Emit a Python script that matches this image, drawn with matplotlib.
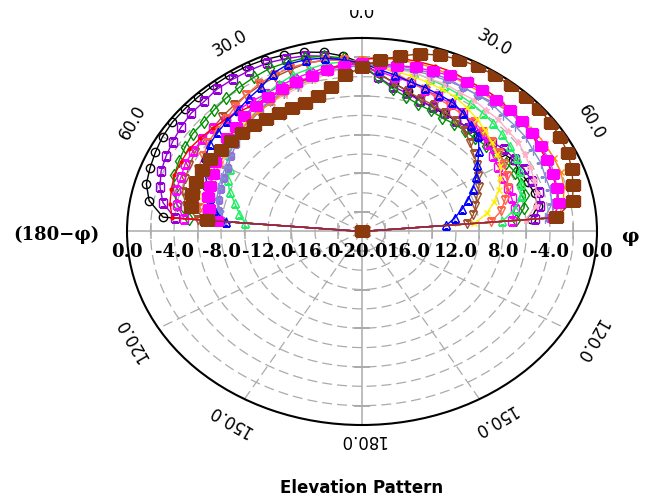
import numpy as np
import matplotlib.pyplot as plt
from matplotlib.transforms import Bbox, TransformedBbox

# elevation angle in degrees (left half is 180-phi, right half is phi)
theta_deg = np.arange(-90, 91, 5)

# pattern values in dB, one list per curve (-90 ... 90 in 5 deg steps)
black_circ = [-20, -3.0, -1.6, -1.0, -0.8, -0.6, -0.4, -0.3, -0.3, -0.3, -0.3, -0.3, -0.3, -0.4, -0.6, -0.8, -1.2, -1.8,
              -2.6, -3.6, -4.4, -5.0, -5.6, -5.8, -6.0, -6.0, -6.0, -6.0, -5.8, -5.6, -5.2, -5.2, -5.0, -4.8, -4.8, -5.6, -20]
violet_sq = [-20, -4.0, -2.8, -2.2, -1.8, -1.6, -1.4, -1.2, -1.0, -1.0, -0.8, -0.8, -0.8, -0.8, -1.0, -1.2, -1.6, -2.2,
             -3.0, -4.0, -4.8, -5.2, -5.6, -5.8, -5.8, -6.0, -6.0, -5.8, -5.6, -5.2, -5.0, -4.8, -4.6, -4.4, -4.6, -5.2, -20]
green_dia = [-20, -5.2, -4.0, -3.4, -3.0, -2.8, -2.6, -2.4, -2.4, -2.2, -2.0, -1.8, -1.6, -1.4, -1.4, -1.4, -1.6, -2.0,
             -2.8, -4.0, -5.0, -5.6, -6.0, -6.2, -6.4, -6.4, -6.4, -6.4, -6.2, -6.0, -5.8, -5.6, -5.6, -5.6, -6.0, -6.8, -20]
sienna_tri = [-20, -6.0, -4.8, -4.2, -4.0, -3.8, -3.6, -3.4, -3.4, -3.2, -3.0, -2.8, -2.6, -2.4, -2.2, -2.0, -2.0, -2.2,
              -2.8, -3.6, -4.4, -5.0, -5.4, -5.6, -5.8, -6.0, -6.4, -7.0, -7.6, -8.0, -8.6, -9.0, -9.6, -10.0, -10.4, -11.0, -20]
blue_tri = [-20, -8.4, -7.2, -6.6, -6.0, -5.2, -4.6, -4.2, -4.0, -3.8, -3.6, -3.2, -2.8, -2.0, -1.6, -1.6, -1.8, -2.2,
            -2.6, -3.2, -3.6, -4.0, -4.2, -4.4, -4.6, -5.0, -5.6, -6.0, -7.0, -8.0, -8.8, -9.6, -10.4, -11.2, -12.0, -12.8, -20]
magenta_sq = [-20, -4.8, -4.0, -3.6, -3.6, -3.4, -3.4, -3.4, -3.4, -3.6, -3.6, -3.6, -3.6, -3.4, -3.2, -3.0, -2.8, -2.8,
              -3.0, -3.4, -3.8, -4.0, -4.4, -4.6, -4.8, -5.0, -5.4, -5.6, -6.0, -6.4, -6.6, -6.8, -6.8, -6.8, -6.8, -7.2, -20]
tomato_tri = [-20, -6.8, -6.0, -5.4, -5.0, -4.6, -4.4, -4.0, -3.8, -3.6, -3.2, -2.8, -2.4, -2.2, -2.0, -2.0, -2.0, -2.2,
              -2.4, -2.8, -3.4, -4.0, -4.4, -4.8, -5.0, -5.2, -5.2, -5.4, -5.6, -5.8, -6.0, -6.4, -6.8, -7.4, -8.0, -9.0, -20]
spring_tri = [-20, -10.0, -9.4, -8.8, -8.0, -7.4, -7.0, -6.2, -5.6, -5.0, -4.4, -4.0, -3.6, -3.2, -2.8, -2.6, -2.4, -2.4,
              -2.4, -2.6, -2.8, -3.0, -3.2, -3.4, -3.6, -3.8, -4.0, -4.2, -4.4, -4.6, -4.8, -5.2, -5.6, -6.0, -6.8, -8.0, -20]
yellow_x = [-20, -7.0, -6.4, -6.0, -5.8, -5.6, -5.6, -5.4, -5.2, -5.0, -4.8, -4.6, -4.4, -4.2, -4.0, -3.8, -3.4, -3.0,
            -2.8, -3.0, -3.2, -3.4, -3.6, -3.8, -4.0, -4.4, -4.8, -5.2, -5.6, -6.0, -6.4, -7.0, -7.6, -8.4, -9.2, -10.4, -20]
pink_star = [-20, -7.8, -7.2, -6.8, -6.6, -6.4, -6.2, -6.0, -5.6, -5.2, -5.0, -4.8, -4.6, -4.4, -4.2, -3.8, -3.4, -3.0,
             -2.8, -2.8, -3.0, -3.0, -3.2, -3.2, -3.4, -3.4, -3.6, -3.6, -3.8, -3.8, -4.0, -4.2, -4.4, -4.6, -5.0, -6.0, -20]
mpurple_sq = [-20, -8.0, -7.6, -7.4, -7.2, -7.0, -6.8, -6.4, -6.0, -5.6, -5.2, -4.8, -4.4, -4.0, -3.8, -3.4, -3.0, -2.8,
              -2.6, -2.6, -2.6, -2.6, -2.6, -2.6, -2.8, -2.8, -2.6, -2.4, -2.4, -2.4, -2.4, -2.4, -2.6, -2.8, -3.2, -4.0, -20]
cornflower_plus = [-20, -8.4, -7.6, -7.2, -7.0, -6.8, -6.6, -6.2, -5.8, -5.4, -5.0, -4.6, -4.4, -4.2, -4.0, -3.6, -3.2, -3.0,
                   -2.8, -2.8, -2.8, -2.8, -2.8, -2.8, -2.8, -2.8, -2.8, -3.0, -3.0, -3.0, -3.2, -3.2, -3.4, -3.4, -3.6, -4.4, -20]
orange_x = [-20, -7.0, -6.6, -6.4, -6.2, -6.2, -6.0, -5.8, -5.6, -5.4, -5.0, -4.8, -4.6, -4.2, -3.8, -3.4, -3.0, -2.6,
            -2.2, -2.0, -2.0, -2.0, -2.0, -2.2, -2.4, -2.4, -2.4, -2.4, -2.2, -2.0, -2.0, -2.0, -2.0, -2.2, -2.6, -3.2, -20]
red_dot = [-20, -3.8, -3.4, -3.2, -3.0, -3.0, -3.0, -3.2, -3.4, -3.6, -3.8, -4.0, -4.0, -4.0, -3.8, -3.4, -3.0, -2.6,
           -2.2, -2.0, -1.8, -1.8, -1.8, -1.8, -2.0, -2.0, -2.0, -2.2, -2.2, -2.4, -2.6, -2.6, -2.8, -2.8, -3.0, -3.6, -20]
magenta_fill = [-20, -7.6, -6.8, -6.4, -6.2, -6.0, -5.6, -5.4, -5.0, -4.8, -4.4, -4.2, -4.0, -3.8, -3.6, -3.4, -3.0, -2.8,
                -2.6, -2.6, -2.6, -2.4, -2.4, -2.2, -2.2, -2.2, -2.3, -2.2, -2.2, -2.3, -2.4, -2.6, -2.7, -2.8, -3.0, -3.6, -20]
brown_sq = [-20, -6.8, -5.2, -5.0, -5.0, -5.0, -5.1, -5.3, -5.5, -5.6, -5.7, -5.8, -5.9, -5.9, -5.9, -5.5, -4.8, -3.8,
            -3.0, -2.2, -1.6, -1.0, -0.6, -0.4, -0.3, -0.3, -0.3, -0.3, -0.3, -0.4, -0.5, -0.7, -1.0, -1.4, -1.8, -3.4, -20]

# axis labels
ring_left = [0, -4, -8, -12, -16, -20]
ring_left_txt = ['0.0', '-4.0', '-8.0', '-12.0', '-16.0', '-20.0']
ring_right = [-16, -12, -8, -4, 0]
ring_right_txt = ['16.0', '12.0', '8.0', '-4.0', '0.0']
ang_ticks = [30, 60, 120, 150, 180, -30, -60, -120, -150]
ang_txt = ['30.0', '60.0', '120.0', '150.0', '180.0', '30.0', '60.0', '120.0', '150.0']

rect = [(-1.3, -1), (1.3, -1), (1.3, 1), (-1.3, 1), (-1.3, -1)]

fig = plt.figure(figsize=(6.47, 5.01), dpi=100)
ax = fig.add_axes([0.1963, 0.1517, 0.7264, 0.7725], projection='polar')
ax.set_aspect('auto')
ax.set_theta_zero_location('N')
ax.set_theta_direction(-1)
ax.set_ylim(-20, 0)
ax.set_xticks([])
ax.set_yticks([])
ax.grid(False)
ax.spines['polar'].set_linewidth(1.5)
ax.spines['polar'].set_color('black')

gcol = '#ababab'
full = np.radians(np.linspace(-180, 180, 721))
for r in range(-18, 0, 2):
    ax.plot(full, np.full_like(full, r), color=gcol, lw=0.9, ls=(0, (8, 4)), zorder=1)
for a in [30, 60, 120, 150, -30, -60, -120, -150]:
    ax.plot([np.radians(a)] * 2, [-20, 0], color=gcol, lw=0.9, ls=(0, (8, 4)), zorder=1)
for a in [0, 90, 180, -90]:
    ax.plot([np.radians(a)] * 2, [-20, 0], color=gcol, lw=1.1, zorder=1)
for r in [-18, -14, -10, -6, -2]:
    ax.plot([0, np.pi], [r, r], ls='none', marker='_', ms=11, mew=1.1, color=gcol, zorder=1)
    ax.plot([np.pi / 2, -np.pi / 2], [r, r], ls='none', marker='|', ms=11, mew=1.1, color=gcol, zorder=1)

th = np.radians(theta_deg)
curves = [
    (black_circ, 'black', 'o', 6, 'none'),
    (violet_sq, '#9400d3', 's', 6, 'none'),
    (green_dia, '#009000', 'd', 6, 'none'),
    (sienna_tri, '#a0522d', 'v', 6, 'none'),
    (magenta_sq, '#ff00ff', 's', 6, 'none'),
    (tomato_tri, '#ff6347', 'v', 6, 'none'),
    (spring_tri, '#22ee66', '^', 6, 'none'),
    (yellow_x, '#ffee00', 'x', 4, None),
    (pink_star, '#ffb0c8', '*', 5, None),
    (mpurple_sq, '#9370db', 's', 5, None),
    (cornflower_plus, '#7f8fcf', '+', 7, None),
    (orange_x, '#ff8c00', 'x', 5, None),
    (red_dot, '#ff0000', '.', 4, None),
    (blue_tri, '#0000ff', '^', 6, 'none'),
    (magenta_fill, '#ff00ff', rect, 8, None),
    (brown_sq, '#8b3a0e', rect, 10, None),
]
for vals, col, mk, ms, mfc in curves:
    kw = dict(color=col, lw=1.0, marker=mk, ms=ms, zorder=3)
    if mfc is not None:
        kw['mfc'] = mfc
    ax.plot(th, vals, **kw)

# radial scale labels along the horizontal diameter
lab = dict(ha='center', va='center', fontsize=13, fontweight='bold', family='DejaVu Serif',
           xytext=(0, -14.5), textcoords='offset points', annotation_clip=False)
for r, s in zip(ring_left, ring_left_txt):
    ax.annotate(s, xy=(-np.pi / 2, r), **lab)
for r, s in zip(ring_right, ring_right_txt):
    ax.annotate(s, xy=(np.pi / 2, r), **lab)

# angle labels, written along the circle
for a, s in zip(ang_ticks, ang_txt):
    rr = 1.6 if a == 180 else 2.5
    ax.text(np.radians(a), rr, s, rotation=-a, ha='center', va='center',
            fontsize=12, family='DejaVu Sans', rotation_mode='anchor')

top = fig.text(362 / 647, 1 - 12.5 / 501, '0.0', ha='center', va='center', fontsize=12, family='DejaVu Sans')
top.set_clip_box(TransformedBbox(Bbox([[0, 0], [1, 1 - 10 / 501]]), fig.transFigure))
top.set_clip_on(True)

fig.text(56 / 647, 1 - 235 / 501, '(180\u2212\u03c6)', ha='center', va='center', fontsize=13,
         fontweight='bold', family='DejaVu Serif')
fig.text(630 / 647, 1 - 237 / 501, '\u03c6', ha='center', va='center', fontsize=14,
         fontweight='bold', family='DejaVu Serif')
fig.text(362 / 647, 1 - 488 / 501, 'Elevation Pattern', ha='center', va='center', fontsize=12,
         fontweight='bold', family='DejaVu Sans')

fig.savefig('out.png', dpi=100)
